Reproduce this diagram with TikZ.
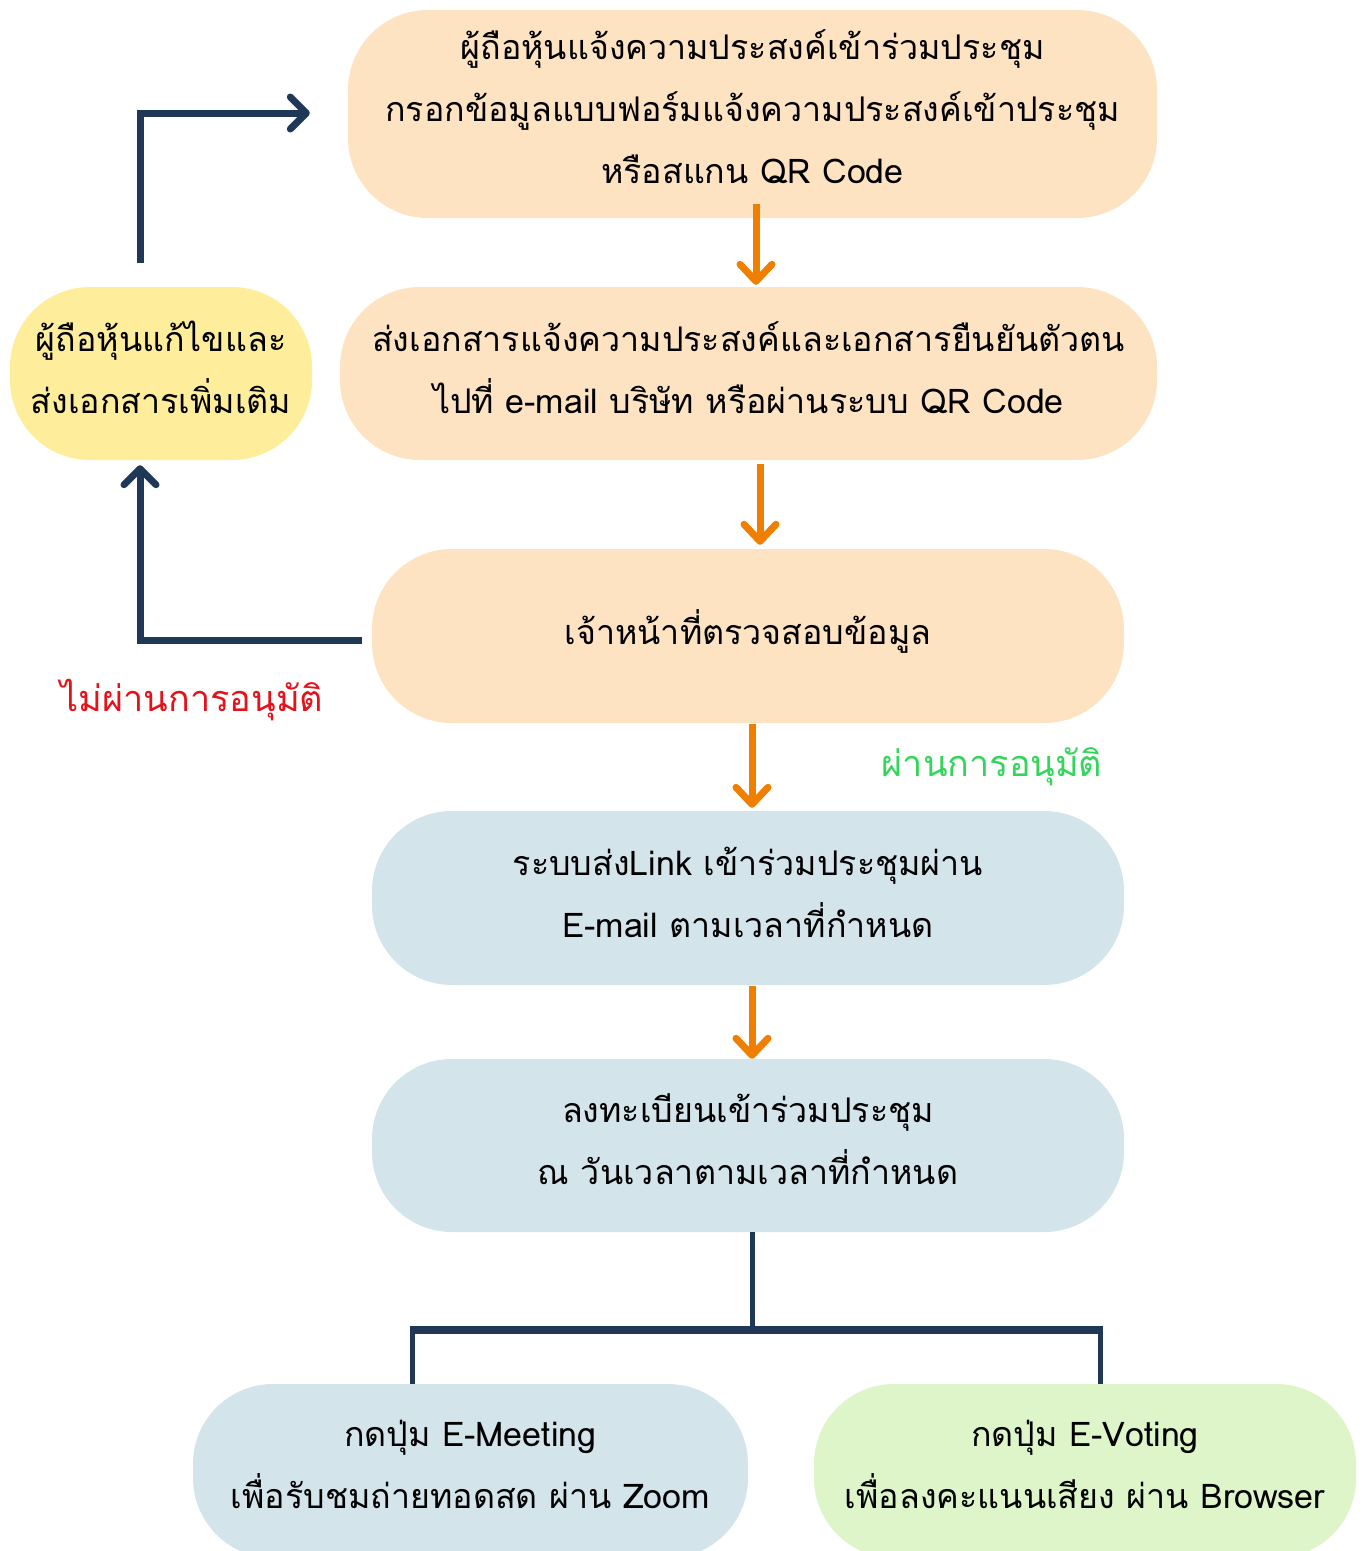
\documentclass[tikz,border=0pt]{standalone}
\usepackage{fontspec}
\setmainfont[Script=Thai]{Loma}
\usetikzlibrary{arrows.meta}
\definecolor{peach}{HTML}{FDE3C2}
\definecolor{ylw}{HTML}{FEED9B}
\definecolor{lblue}{HTML}{D3E4EA}
\definecolor{lgreen}{HTML}{DDF5C9}
\definecolor{orng}{HTML}{F07F00}
\definecolor{navy}{HTML}{203858}
\definecolor{rtext}{HTML}{E5121A}
\definecolor{gtext}{HTML}{33D65B}
\tikzset{
  box/.style={rounded corners=80pt, inner sep=0pt},
  txt/.style={inner sep=0pt, align=center, text=black,
    font=\fontsize{34}{62}\selectfont},
  oarrow/.style={draw=orng, line width=7pt, -{Straight Barb[length=17pt,width=32pt,round]}},
  narrow/.style={draw=navy, line width=7pt, -{Straight Barb[length=16pt,width=32pt,round]}},
  nline/.style={draw=navy, line width=5pt},
  lbl/.style={font=\fontsize{36}{40}\selectfont, inner sep=0pt}
}
\begin{document}
\begin{tikzpicture}[x=1pt,y=-1pt]
\useasboundingbox (0,0) rectangle (1364,1551);
\clip (0,0) rectangle (1364,1551);
\node[box, fill=peach, minimum width=809pt, minimum height=208pt] (b1) at (752.5,114) {};
\node[box, fill=peach, minimum width=817pt, minimum height=173pt] (b2) at (748.5,373.5) {};
\node[box, fill=ylw, minimum width=302pt, minimum height=173pt] (y1) at (161,373.5) {};
\node[box, fill=peach, minimum width=752pt, minimum height=174pt] (b3) at (748,636) {};
\node[box, fill=lblue, minimum width=752pt, minimum height=174pt] (b4) at (748,898) {};
\node[box, fill=lblue, minimum width=752pt, minimum height=173pt] (b5) at (748,1145.5) {};
\node[box, fill=lblue, minimum width=555pt, minimum height=174pt] (b6) at (470.5,1471) {};
\node[box, fill=lgreen, minimum width=542pt, minimum height=174pt] (b7) at (1085,1471) {};

\node[txt] (t1) at ([yshift=7pt]b1.center)
  {ผู้ถือหุ้นแจ้งความประสงค์เข้าร่วมประชุม\\กรอกข้อมูลแบบฟอร์มแจ้งความประสงค์เข้าประชุม\\หรือสแกน QR Code};
\node[txt] (t2) at ([yshift=6pt]b2.center)
  {ส่งเอกสารแจ้งความประสงค์และเอกสารยืนยันตัวตน\\ไปที่ e-mail บริษัท หรือผ่านระบบ QR Code};
\node[txt] (ty) at ([yshift=6pt]y1.center)
  {ผู้ถือหุ้นแก้ไขและ\\ส่งเอกสารเพิ่มเติม};
\node[txt] (t3) at ([yshift=5pt]b3.center)
  {เจ้าหน้าที่ตรวจสอบข้อมูล};
\node[txt] (t4) at ([yshift=6pt]b4.center)
  {ระบบส่งLink เข้าร่วมประชุมผ่าน\\E-mail ตามเวลาที่กำหนด};
\node[txt] (t5) at ([yshift=6pt]b5.center)
  {ลงทะเบียนเข้าร่วมประชุม\\ณ วันเวลาตามเวลาที่กำหนด};
\node[txt] (t6) at ([yshift=7pt]b6.center)
  {กดปุ่ม E-Meeting\\เพื่อรับชมถ่ายทอดสด ผ่าน Zoom};
\node[txt] (t7) at ([yshift=7pt]b7.center)
  {กดปุ่ม E-Voting\\เพื่อลงคะแนนเสียง ผ่าน Browser};

\node[lbl, text=rtext] (no) at (192,700) {ไม่ผ่านการอนุมัติ};
\node[lbl, text=gtext] (yes) at (992,767) {ผ่านการอนุมัติ};

\draw[oarrow] ([xshift=3.5pt,yshift=14pt]b1.south) -- ([xshift=7.5pt,yshift=2pt]b2.north);
\draw[oarrow] ([xshift=11.5pt,yshift=-4pt]b2.south) -- ([xshift=12pt,yshift=4pt]b3.north);
\draw[oarrow] ([xshift=4pt,yshift=-1pt]b3.south) -- ([xshift=4pt,yshift=3pt]b4.north);
\draw[oarrow] ([xshift=4pt,yshift=-1pt]b4.south) -- ([xshift=4pt,yshift=0pt]b5.north);

\draw[narrow] ([xshift=-21pt,yshift=24pt]y1.north) |- ([xshift=-38pt,yshift=1pt]b1.west);
\draw[narrow] ([xshift=-10pt,yshift=-4pt]b3.west) -| ([xshift=-21pt,yshift=-5pt]y1.south);

\coordinate (j) at (752,1330);
\coordinate (jl) at (412,1330);
\coordinate (jr) at (1100,1330);
\draw[nline] ([xshift=4pt]b5.south) -- (j);
\draw[navy, line width=8pt] ([xshift=-2.5pt]jl) -- ([xshift=2.5pt]jr);
\draw[nline] (jl) -- (jl |- b6.north);
\draw[nline] (jr) -- (jr |- b7.north);
\end{tikzpicture}
\end{document}
